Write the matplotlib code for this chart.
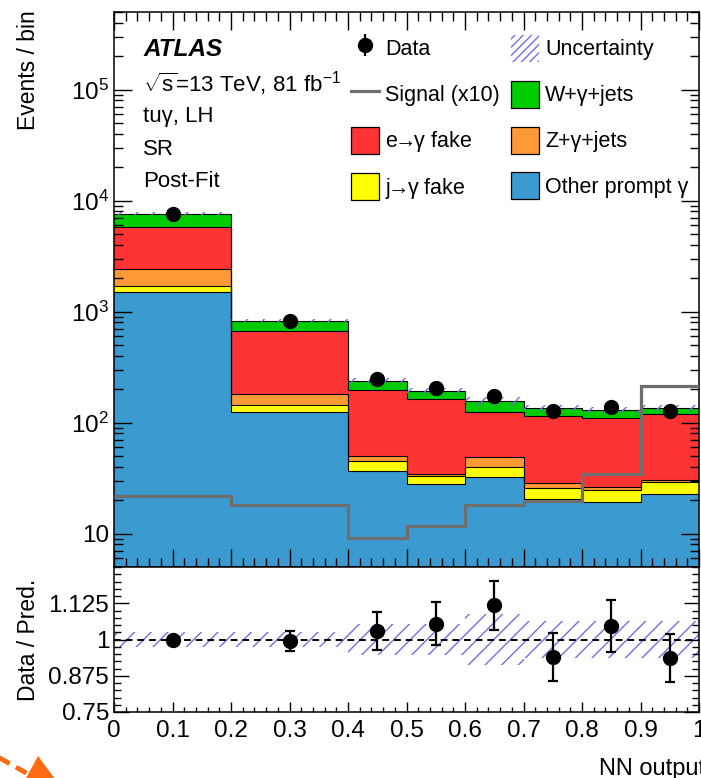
import numpy as np
import matplotlib
matplotlib.use("Agg")
import matplotlib.pyplot as plt
from matplotlib.lines import Line2D
from matplotlib.patches import Patch, Polygon
from matplotlib.ticker import FuncFormatter, NullFormatter, MultipleLocator, FixedLocator, LogLocator

plt.rcParams['font.family'] = ['Liberation Sans', 'DejaVu Sans']
plt.rcParams['mathtext.fontset'] = 'custom'
plt.rcParams['mathtext.rm'] = 'Liberation Sans'
plt.rcParams['mathtext.it'] = 'Liberation Sans:italic'
plt.rcParams['mathtext.bf'] = 'Liberation Sans:bold'
plt.rcParams['hatch.linewidth'] = 1.0

# ---- binning and yields (events per bin) ----
bin_edges = [0.0, 0.2, 0.4, 0.5, 0.6, 0.7, 0.8, 0.9, 1.0]
other_prompt = [1490, 124, 37.0, 28.0, 32.6, 20.7, 19.3, 22.8]
j_fake = [200, 20, 7.8, 5.3, 7.5, 4.9, 5.4, 6.2]
z_gamma = [715, 37, 4.9, 1.2, 9.0, 2.8, 1.8, 1.2]
e_fake = [3340, 493, 148, 128, 75, 87, 83.5, 90]
w_gamma = [1895, 156, 41, 30, 31.5, 21, 21, 15.5]
signal = [2.17, 1.81, 0.91, 1.16, 1.81, 1.98, 3.47, 21.5]   # drawn scaled x10
data = [7640, 826, 246, 203, 174, 128, 137, 127]
unc_rel = [0.025, 0.025, 0.055, 0.055, 0.087, 0.065, 0.065, 0.065]
data_x = [0.1, 0.3, 0.45, 0.55, 0.65, 0.75, 0.85, 0.95]

# stack from bottom to top
stack_order = [
    ("Other prompt γ", other_prompt, "#3b9bd0"),
    ("j→γ fake", j_fake, "#ffff00"),
    ("Z+γ+jets", z_gamma, "#fd9a35"),
    ("e→γ fake", e_fake, "#fe3434"),
    ("W+γ+jets", w_gamma, "#00cc00"),
]
hatch_col = "#6f6fe6"

edges = np.array(bin_edges)
data_arr = np.array(data, dtype=float)
unc = np.array(unc_rel)
cum = np.cumsum([np.array(v, dtype=float) for _, v, _ in stack_order], axis=0)
total = cum[-1]

W, H = 701, 778
fig = plt.figure(figsize=(W / 100, H / 100), dpi=100)
x0, x1 = 114 / W, 699 / W
ax = fig.add_axes([x0, 1 - 567 / H, x1 - x0, (567 - 12) / H])
axr = fig.add_axes([x0, 1 - 712 / H, x1 - x0, (712 - 567) / H], sharex=ax)

ymin, ymax = 5, 5e5
# stacked histograms: fill each cumulative level, outline its step contour
for i in range(len(stack_order) - 1, -1, -1):
    ax.stairs(cum[i], edges, baseline=1e-3, fill=True, color=stack_order[i][2], lw=0, zorder=1 + (5 - i) * 0.1)
for i in range(len(stack_order)):
    ax.stairs(cum[i], edges, baseline=None, color="black", lw=0.8, zorder=2)

# total uncertainty band
ax.stairs(total * (1 + unc), edges, baseline=total * (1 - unc), fill=True, facecolor="none",
          edgecolor=hatch_col, hatch="//", lw=0, zorder=3)

# signal x10
ax.stairs(np.array(signal) * 10, edges, baseline=None, color="#6e6e6e", lw=2.3, zorder=4)

# data
eb = ax.errorbar(data_x, data_arr, yerr=np.sqrt(data_arr), fmt="o", color="black", ms=10,
                 elinewidth=1.6, capsize=0, zorder=5)

ax.set_yscale("log")
ax.set_ylim(ymin, ymax)
ax.set_xlim(0, 1)
ax.yaxis.set_major_locator(LogLocator(base=10, numticks=10))
ax.yaxis.set_minor_locator(LogLocator(base=10, subs=np.arange(2, 10), numticks=20))
ax.yaxis.set_minor_formatter(NullFormatter())
ax.yaxis.set_major_formatter(FuncFormatter(
    lambda v, p: "10" if abs(v - 10) < 1e-6 else r"$10^{%d}$" % int(round(np.log10(v)))))
ax.xaxis.set_major_locator(MultipleLocator(0.1))
ax.xaxis.set_minor_locator(MultipleLocator(0.02))
ax.tick_params(which="both", direction="in", top=True, right=True, labelbottom=False, width=1.0)
ax.tick_params(which="major", length=13, labelsize=17.5)
ax.tick_params(which="minor", length=6.5)
for s in ax.spines.values():
    s.set_linewidth(1.1)
ax.set_ylabel("Events / bin", fontsize=16.5, loc="top")
ax.yaxis.set_label_coords(-0.126, 1.004)

# text block
tx = 0.05
ax.text(tx, 0.932, "ATLAS", transform=ax.transAxes, fontsize=17.5, fontweight="bold",
        fontstyle="italic", va="center", ha="left")
ax.text(tx, 0.871, r"$\sqrt{\mathrm{s}}$=13 TeV, 81 fb$^{-1}$", transform=ax.transAxes,
        fontsize=16, va="center", ha="left")
ax.text(tx, 0.812, "tuγ, LH", transform=ax.transAxes, fontsize=16, va="center", ha="left")
ax.text(tx, 0.753, "SR", transform=ax.transAxes, fontsize=16, va="center", ha="left")
ax.text(tx, 0.694, "Post-Fit", transform=ax.transAxes, fontsize=16, va="center", ha="left")

# legend (column-wise)
def box(c):
    return Patch(facecolor=c, edgecolor="black", lw=0.9)

handles = [
    eb,
    Line2D([], [], color="#6e6e6e", lw=2.3),
    box(stack_order[3][2]),
    box(stack_order[1][2]),
    Patch(facecolor="none", edgecolor=hatch_col, hatch="////", lw=0),
    box(stack_order[4][2]),
    box(stack_order[2][2]),
    box(stack_order[0][2]),
]
labels = ["Data", "Signal (x10)", r"e$\!\!\rightarrow\!\!$γ fake", r"j$\!\!\rightarrow\!\!$γ fake",
          "Uncertainty", "W+γ+jets", "Z+γ+jets", "Other prompt γ"]
ax.legend(handles, labels, ncol=2, loc="upper left", bbox_to_anchor=(0.405, 0.959),
          frameon=False, fontsize=15.5, handlelength=1.3, handleheight=1.55,
          handletextpad=0.3, labelspacing=0.88, columnspacing=0.5,
          borderpad=0, borderaxespad=0)

# ---- ratio panel ----
ratio = data_arr / total
ratio_err = np.sqrt(data_arr) / total
axr.stairs(1 + unc, edges, baseline=1 - unc, fill=True, facecolor="none",
           edgecolor=hatch_col, hatch="//", lw=0, zorder=1)
axr.axhline(1.0, color="black", lw=1.4, ls=(0, (3.5, 2.5)), zorder=2)
axr.errorbar(data_x, ratio, yerr=ratio_err, fmt="o", color="black", ms=10,
             elinewidth=1.6, capsize=3.5, capthick=1.6, zorder=3)
axr.set_ylim(0.75, 1.25)
axr.yaxis.set_major_locator(FixedLocator([0.75, 0.875, 1.0, 1.125]))
axr.yaxis.set_major_formatter(FuncFormatter(lambda v, p: ("%.3f" % v).rstrip("0").rstrip(".")))
axr.yaxis.set_minor_locator(MultipleLocator(0.025))
axr.xaxis.set_major_formatter(FuncFormatter(lambda v, p: "%g" % round(v, 2)))
axr.tick_params(which="both", direction="in", top=False, right=True, width=1.0, labelsize=17.5)
axr.tick_params(axis="x", which="major", length=7, pad=6)
axr.tick_params(axis="x", which="minor", length=3.6)
axr.tick_params(axis="y", which="major", length=11)
axr.tick_params(axis="y", which="minor", length=5)
for s in axr.spines.values():
    s.set_linewidth(1.1)
axr.set_ylabel("Data / Pred.", fontsize=16.5)
axr.yaxis.set_label_coords(-0.126, 0.5)
axr.set_xlabel("NN output", fontsize=17, loc="right")
axr.xaxis.set_label_coords(1.01, -0.317)

# corner arrow decoration (figure pixels -> fraction)
def fpx(px, py):
    return (px / W, 1 - py / H)

fig.add_artist(Line2D([fpx(-2, 757)[0], fpx(28, 774)[0]], [fpx(-2, 757)[1], fpx(28, 774)[1]],
                      color="#ff6a13", lw=3.5, ls=(0, (2.5, 1.5)), transform=fig.transFigure))
fig.add_artist(Polygon([fpx(38, 756), fpx(25, 780), fpx(58, 783)], closed=True,
                       facecolor="#ff6a13", edgecolor="none", transform=fig.transFigure))

fig.savefig("out.png", dpi=100, facecolor="white")
